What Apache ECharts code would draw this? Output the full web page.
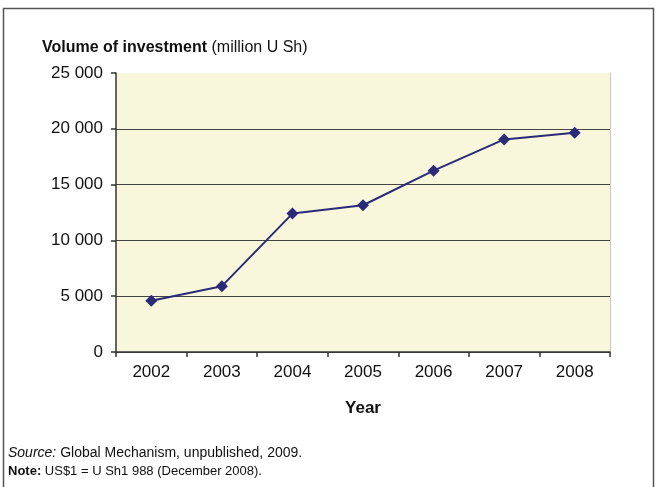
<!DOCTYPE html>
<html><head><meta charset="utf-8">
<script src="https://cdn.jsdelivr.net/npm/echarts@6/dist/echarts.min.js"></script>
<style>html,body{margin:0;padding:0;background:#fff}#c{width:656px;height:487px}</style>
</head><body><div id="c"></div>
<script>
const years = ['2002','2003','2004','2005','2006','2007','2008'];
const investment = [4600, 5900, 12400, 13150, 16250, 19050, 19650];
const yTicks = [0, 5000, 10000, 15000, 20000, 25000];

const FONT = '"Liberation Sans", Arial, sans-serif';
const chart = echarts.init(document.getElementById('c'));
chart.setOption({
  backgroundColor: '#fff',
  animation: false,
  textStyle: { fontFamily: FONT },
  title: {
    left: 37, top: 35,
    text: '{b|Volume of investment} {n|(million U Sh)}',
    textStyle: {
      fontWeight: 'normal', fontSize: 16, fontFamily: FONT,
      rich: {
        b: { fontFamily: FONT, fontWeight: 'bold', fontSize: 16, color: '#111' },
        n: { fontFamily: FONT, fontWeight: 'normal', fontSize: 16, color: '#111' }
      }
    }
  },
  graphic: [
    { type: 'rect', shape: { x: 3.5, y: 8.5, width: 650, height: 490 },
      style: { fill: 'none', stroke: '#555', lineWidth: 1.5 }, z: 100 },
    { type: 'text', left: 8, top: 446, style: {
        text: '{i|Source:} Global Mechanism, unpublished, 2009.',
        font: '14px ' + FONT, fill: '#111',
        rich: { i: { fontStyle: 'italic', fontFamily: FONT, fontSize: 14, fill: '#111' } }
    } },
    { type: 'text', left: 8, top: 465, style: {
        text: '{b|Note:} US$1 = U Sh1 988 (December 2008).',
        font: '13px ' + FONT, fill: '#111',
        rich: { b: { fontWeight: 'bold', fontFamily: FONT, fontSize: 13, fill: '#111' } }
    } }
  ],
  grid: { left: 116, right: 46, top: 73, bottom: 135, show: true,
          backgroundColor: '#F8F7DC', borderWidth: 0 },
  xAxis: {
    type: 'category', data: years, boundaryGap: true,
    name: 'Year', nameLocation: 'middle', nameGap: 48,
    nameTextStyle: { fontFamily: FONT, fontWeight: 'bold', fontSize: 17, color: '#111' },
    axisLine: { lineStyle: { color: '#333', width: 1.5 } },
    axisTick: { show: true, length: 5, lineStyle: { color: '#333', width: 1.5 } },
    axisLabel: { fontFamily: FONT, fontSize: 17, color: '#111', margin: 12 }
  },
  yAxis: [{
    type: 'value', min: 0, max: 25000, interval: 5000,
    axisLine: { show: true, lineStyle: { color: '#333', width: 1.5 } },
    axisTick: { show: true, length: 5, lineStyle: { color: '#333', width: 1.5 } },
    axisLabel: { fontFamily: FONT, fontSize: 17, color: '#111', margin: 13,
      formatter: v => yTicks.includes(v) ? (v >= 1000 ? Math.floor(v/1000) + ' ' + String(v % 1000).padStart(3,'0') : String(v)) : '' },
    splitLine: { show: true, lineStyle: { color: ['#444','#444','#444','#444','#444','rgba(0,0,0,0)'], width: 1.2 } }
  }, {
    type: 'value', min: 0, max: 25000, interval: 5000, position: 'right',
    axisLine: { show: true, lineStyle: { color: '#c8c8c8', width: 1 } },
    axisTick: { show: false }, axisLabel: { show: false }, splitLine: { show: false }
  }],
  series: [{
    type: 'line', data: investment, yAxisIndex: 0,
    symbol: 'diamond', symbolSize: 12,
    lineStyle: { color: '#2B2A78', width: 2 },
    itemStyle: { color: '#2B2A78' }
  }]
});
</script></body></html>
